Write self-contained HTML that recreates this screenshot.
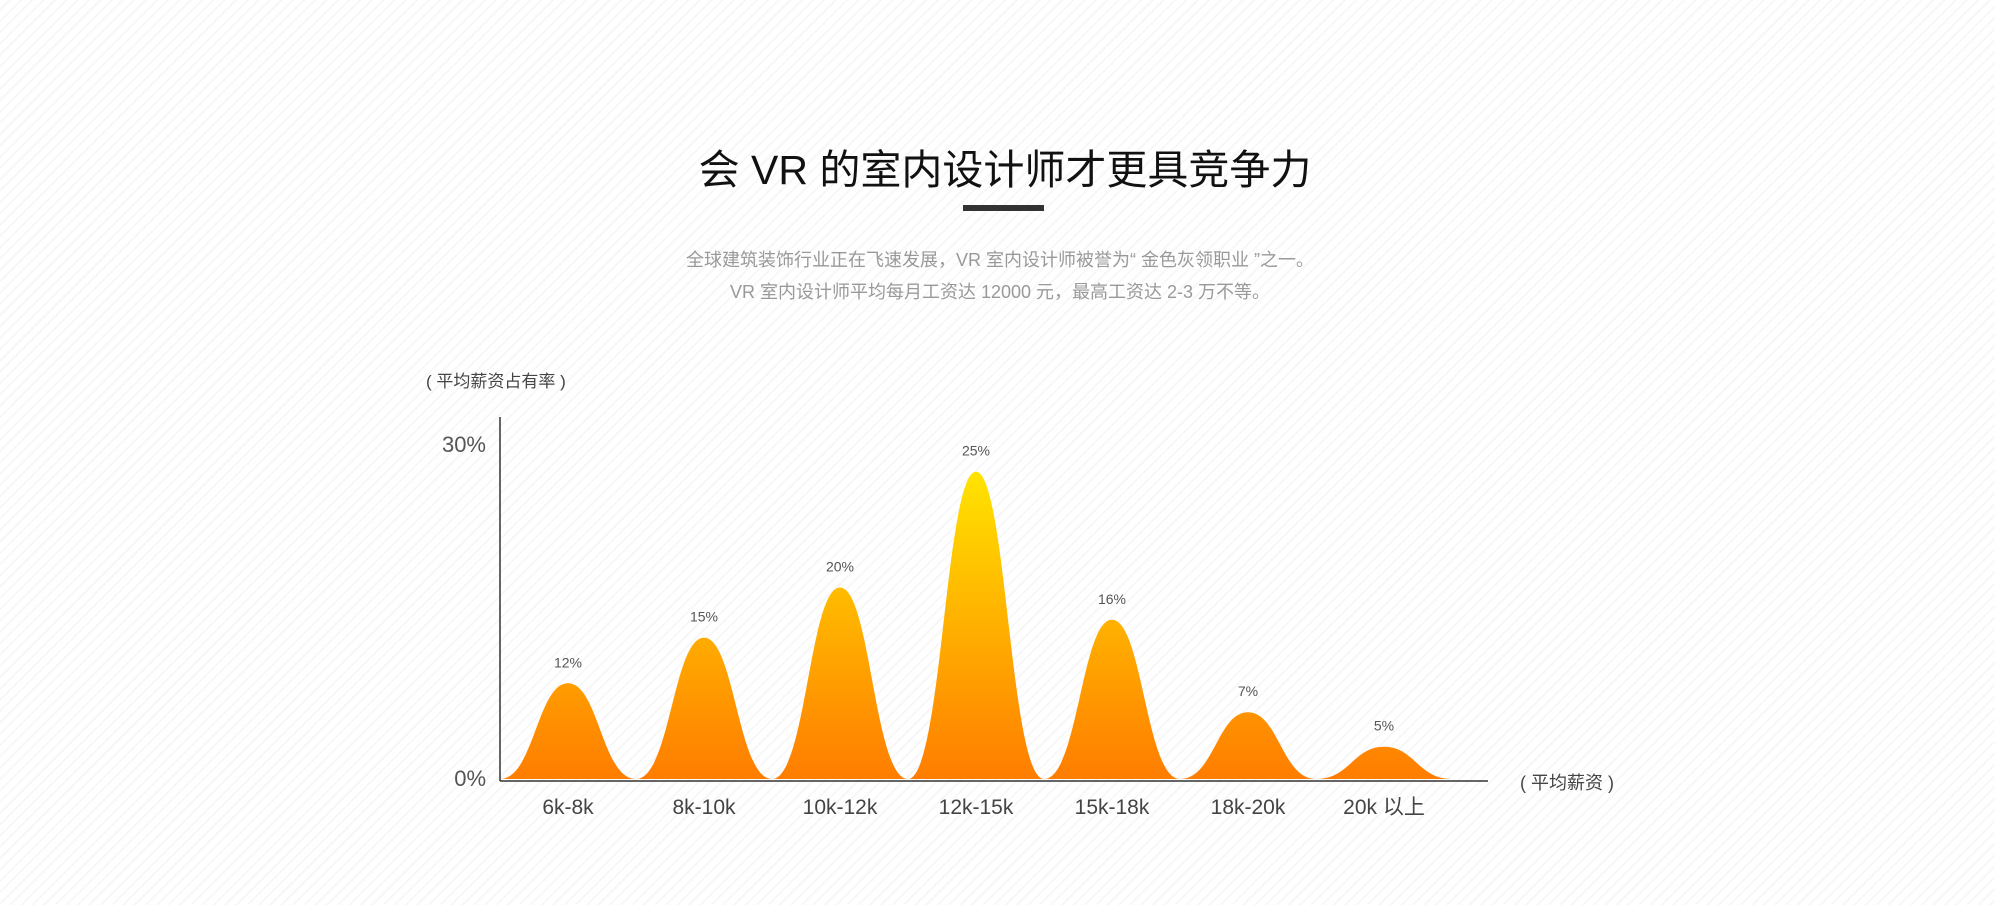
<!DOCTYPE html>
<html><head><meta charset="utf-8"><style>
html,body{margin:0;padding:0;}
body{width:1995px;height:905px;overflow:hidden;background:#fff repeating-linear-gradient(135deg,#fff 0,#fff 6px,#f7f7f7 6px,#f7f7f7 8px);font-family:"Liberation Sans","Noto Sans CJK SC",sans-serif;position:relative;}
.t{position:absolute;white-space:nowrap;}
</style></head><body>
<div class="t" style="left:0;width:2010px;text-align:center;top:136px;font-size:41px;color:#111;">会 VR 的室内设计师才更具竞争力</div>
<div style="position:absolute;left:963px;top:205px;width:81px;height:6px;background:#333;"></div>
<div class="t" style="left:0;width:2000px;text-align:center;top:246px;font-size:18px;color:#999;">全球建筑装饰行业正在飞速发展，VR 室内设计师被誉为“ 金色灰领职业 ”之一。</div>
<div class="t" style="left:0;width:2000px;text-align:center;top:278px;font-size:18px;color:#999;">VR 室内设计师平均每月工资达 12000 元，最高工资达 2-3 万不等。</div>
<svg id="chart" width="1995" height="905" style="position:absolute;left:0;top:0;" xmlns="http://www.w3.org/2000/svg">
<defs><linearGradient id="g" gradientUnits="userSpaceOnUse" x1="0" y1="470" x2="0" y2="781"><stop offset="0" stop-color="#ffe400"/><stop offset="1" stop-color="#ff7c00"/></linearGradient></defs>
</svg>
<script>
const categories=["6k-8k","8k-10k","10k-12k","12k-15k","15k-18k","18k-20k","20k 以上"];
const heights=[8.6,12.7,17.2,27.6,14.3,6.0,2.9];
const valueLabels=["12%","15%","20%","25%","16%","7%","5%"];
const yTicks=["0%","30%"];
const yTickVals=[0,30];
const svg=document.getElementById('chart');
const NS="http://www.w3.org/2000/svg";
const x0=500,x1=1452,base=779,top30=445;
const bw=(x1-x0)/categories.length;
const y=v=>base-(base-top30)*v/30;
const bx=i=>x0+i*bw;
function mk(tag,attrs,txt){const e=document.createElementNS(NS,tag);for(const k in attrs)e.setAttribute(k,attrs[k]);if(txt!==undefined)e.textContent=txt;svg.appendChild(e);return e;}
let e;
e=mk('line',{x1:500,y1:417,x2:500,y2:781,stroke:'#333','stroke-width':1.5});


e=mk('line',{x1:500,y1:781,x2:1488,y2:781,stroke:'#333','stroke-width':1.5});


yTicks.forEach((t,i)=>{
 e=mk('text',{x:486,y:y(yTickVals[i])+7,'text-anchor':'end','font-size':22,fill:'#555'},t);
 
 
});
categories.forEach((c,i)=>{
 const l=bx(i),r=bx(i+1),p=(l+r)/2,t=y(heights[i]);
 const d=`M${l},${base} C${l+(p-l)*0.5},${base} ${p-(p-l)*0.45},${t} ${p},${t} C${p+(r-p)*0.45},${t} ${r-(r-p)*0.5},${base} ${r},${base} Z`;
 e=mk('path',{d:d,fill:'url(#g)'});
 
 
 e=mk('text',{x:p,y:t-16,'text-anchor':'middle','font-size':14,fill:'#555'},valueLabels[i]);
 
 
 e=mk('text',{x:p,y:814,'text-anchor':'middle','font-size':21,fill:'#444'},c);
 
 
});
e=mk('text',{x:426,y:387,'font-size':17,fill:'#444'},'( 平均薪资占有率 )');


e=mk('text',{x:1520,y:789,'font-size':18,fill:'#444'},'( 平均薪资 )');


</script>
</body></html>
